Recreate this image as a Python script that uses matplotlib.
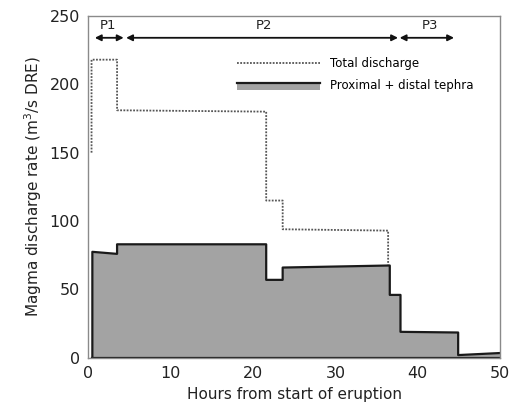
"""Magma discharge rate through the eruption: total vs proximal + distal tephra."""

import matplotlib

matplotlib.use("Agg")
import matplotlib.pyplot as plt
from matplotlib.legend_handler import HandlerBase
from matplotlib.lines import Line2D
from matplotlib.patches import Patch, Rectangle

# Total discharge outline (step vertices)
total_hours = [0.4, 0.4, 3.5, 3.5, 21.6, 21.6, 23.6, 23.6, 36.4, 36.4]
total_rate = [150, 218, 218, 181, 180, 115, 115, 94, 93, 68]

# Proximal + distal tephra outline (step vertices)
tephra_hours = [0.5, 0.5, 3.5, 3.5, 21.6, 21.6, 23.6, 23.6, 36.6, 36.6,
                37.9, 37.9, 44.9, 44.9, 50.0]
tephra_rate = [0, 77.5, 76, 83, 83, 57, 57, 66, 67.5, 46,
               46, 19, 18.5, 2, 3.5]

# Eruption phases
phase_names = ["P1", "P2", "P3"]
phase_start = [0.8, 4.6, 37.8]
phase_end = [4.3, 37.6, 44.4]
phase_label_x = [2.4, 21.3, 41.5]
phase_y = 234

GREY = "#a3a3a3"
DARK = "#1a1a1a"
DOTS = "#555555"


class GreyBarHandler(HandlerBase):
    """Grey bar with a dark edge on top, as in the filled area."""

    def create_artists(self, legend, orig_handle, xdescent, ydescent,
                       width, height, fontsize, trans):
        x0, y0 = -xdescent, -ydescent
        bar = Rectangle((x0, y0 - 0.15 * height), width, 0.95 * height,
                        facecolor=GREY, edgecolor="none", transform=trans)
        top = Line2D([x0, x0 + width], [y0 + 0.8 * height] * 2,
                     color=DARK, lw=1.6, transform=trans)
        return [bar, top]


fig = plt.figure(figsize=(5.13, 4.08), dpi=100)
ax = fig.add_axes([0.172, 0.123, 0.803, 0.838])

ax.fill_between(tephra_hours, tephra_rate, 0, color=GREY, lw=0)
ax.plot(tephra_hours, tephra_rate, color=DARK, lw=1.6)
ax.plot([tephra_hours[0], tephra_hours[-1]], [0, 0], color=DARK, lw=1.6)
ax.plot(total_hours, total_rate, color=DOTS, lw=1.3, ls=(0, (1, 0.8)))

for name, s, e, lx in zip(phase_names, phase_start, phase_end, phase_label_x):
    ax.annotate("", xy=(e, phase_y), xytext=(s, phase_y),
                arrowprops=dict(arrowstyle="<|-|>", color="#111111", lw=1.3,
                                mutation_scale=9, shrinkA=0, shrinkB=0))
    ax.text(lx, phase_y + 4, name, ha="center", va="bottom",
            fontsize=9.5, color="#222222")

bar_handle = Patch(facecolor=GREY)
handles = [Line2D([], [], color=DOTS, lw=1.3, ls=(0, (1, 0.8))), bar_handle]
ax.legend(handles, ["Total discharge", "Proximal + distal tephra"],
          handler_map={Patch: GreyBarHandler()},
          loc="upper left", bbox_to_anchor=(0.336, 0.911), frameon=False,
          fontsize=8.5, handlelength=7.0, handletextpad=0.85, labelspacing=0.78)

ax.set_xlim(0, 50)
ax.set_ylim(0, 250)
ax.set_xticks([0, 10, 20, 30, 40, 50])
ax.set_yticks([0, 50, 100, 150, 200, 250])
ax.tick_params(length=0, labelsize=11.5, pad=6, colors="#222222")
for sp in ax.spines.values():
    sp.set_color("#8a8a8a")
    sp.set_linewidth(1.0)

ax.set_xlabel("Hours from start of eruption", fontsize=11, color="#222222")
ax.set_ylabel("Magma discharge rate (m$^3$/s DRE)", fontsize=11, color="#222222")

fig.savefig("out.png", dpi=100)
